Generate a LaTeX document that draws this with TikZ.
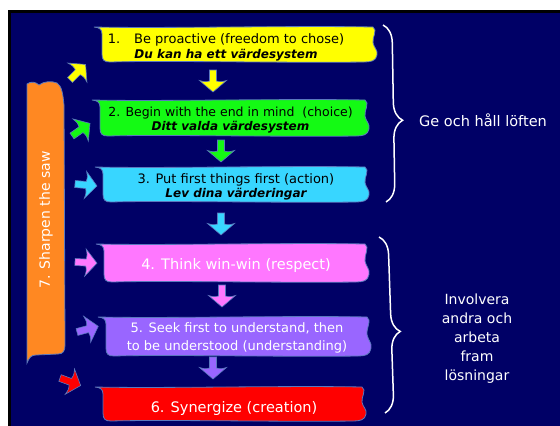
\documentclass[tikz,border=0pt]{standalone}
\usepackage{fontspec}
\setmainfont{DejaVu Sans}
\usetikzlibrary{decorations.pathreplacing}
\definecolor{navy}{RGB}{0,0,102}
\definecolor{edgec}{RGB}{90,120,190}
\definecolor{cyellow}{RGB}{255,255,0}
\definecolor{cgreen}{RGB}{20,250,20}
\definecolor{ccyan}{RGB}{56,214,255}
\definecolor{cpink}{RGB}{255,119,255}
\definecolor{cpurple}{RGB}{153,102,255}
\definecolor{cred}{RGB}{255,0,0}
\definecolor{corange}{RGB}{255,136,34}
\newcommand\scrollbox[5]{%
  \pgfmathsetmacro\sL{#2}\pgfmathsetmacro\sT{#3}%
  \pgfmathsetmacro\sR{#4}\pgfmathsetmacro\sB{#5}%
  \pgfmathsetmacro\sH{\sB-\sT}%
  \filldraw[scrollstyle, fill=#1] (\sL-8,\sT)
    .. controls (\sL+60,\sT+1.5) and (\sR-80,\sT-1.5) .. (\sR-3,\sT)
    .. controls (\sR+2,\sT+3) and (\sR-4,\sT+0.3*\sH) .. (\sR-3,\sT+0.45*\sH)
    .. controls (\sR-2,\sT+0.6*\sH) and (\sR+2,\sT+0.65*\sH) .. (\sR+1,\sT+0.8*\sH)
    .. controls (\sR,\sB-1) and (\sR-5,\sB) .. (\sR-12,\sB)
    .. controls (\sR-80,\sB+1) and (\sL+60,\sB-1.5) .. (\sL+8,\sB)
    .. controls (\sL+2,\sB) and (\sL,\sB-2) .. (\sL,\sB-8)
    -- (\sL,\sT+7)
    .. controls (\sL,\sT+2) and (\sL-3,\sT+0.5) .. (\sL-8,\sT) -- cycle;}
\tikzset{
  scrollstyle/.style={draw=edgec, line width=0.8pt},
  fatarrow/.pic={\filldraw[fill=#1, draw=edgec, line width=0.6pt]
    (0,-3.5) -- (11,-3.5) .. controls (12,-8) .. (10.5,-13.5)
    .. controls (16,-6) .. (22,0) .. controls (16,6) .. (10.5,13.5)
    .. controls (12,8) .. (11,3.5) -- (0,3.5) -- cycle;},
  txt/.style={inner sep=0pt, align=center},
  bracestyle/.style={draw=white, line width=1.5pt,
    decorate, decoration={brace, amplitude=18pt, aspect=0.54}}
}
\begin{document}
\begin{tikzpicture}[x=1pt,y=-1pt]
\useasboundingbox (0,0) rectangle (560,426);
\fill[white] (0,0) rectangle (560,426);
\fill[black] (8,10) rectangle (560,426);
\fill[navy] (11,13) rectangle (560,426);

% orange bar
\filldraw[fill=corange, draw=edgec, line width=0.8pt]
  (27,84) .. controls (31,81) and (36,82) .. (39,85)
  .. controls (44,81) and (52,81) .. (57,83)
  .. controls (62,86) and (63,95) .. (64,105) -- (65,345)
  .. controls (65,351) and (63,354) .. (58,354) -- (36,355)
  .. controls (31,355) and (29,358) .. (27,363) -- cycle;
\node[txt, rotate=90, text=white, font=\fontsize{14}{17}\selectfont] (saw) at (46,220) {7. Sharpen the saw};

% boxes
\scrollbox{cyellow}{102}{27}{376}{62}
\scrollbox{cgreen}{100}{100}{368}{136}
\scrollbox{ccyan}{103}{167}{368}{202}
\scrollbox{cpink}{104}{244}{368}{282}
\scrollbox{cpurple}{106}{317}{370}{356}
\scrollbox{cred}{103}{387}{365}{421}

\node[txt, font=\fontsize{13}{15}\selectfont] (b1) at (226,47.5)
  {1.\hspace{14pt}Be proactive (freedom to chose)\\[0pt]{\fontsize{12}{15}\selectfont\bfseries\itshape Du kan ha ett värdesystem}};
\node[txt, font=\fontsize{12.5}{14}\selectfont] (b2) at (230.5,120)
  {2. Begin with the end in mind\ \ (choice)\\{\fontsize{12}{14}\selectfont\bfseries\itshape Ditt valda värdesystem}};
\node[txt, font=\fontsize{13}{14}\selectfont] (b3) at (236,187)
  {3. Put first things first (action)\\{\fontsize{12}{14}\selectfont\bfseries\itshape Lev dina värderingar}};
\node[txt, text=white, font=\fontsize{14.5}{17}\selectfont] (b4) at (236,265) {4. Think win-win (respect)};
\node[txt, text=white, font=\fontsize{13}{18}\selectfont] (b5) at (237,338)
  {5. Seek first to understand, then\\to be understood (understanding)};
\node[txt, text=white, font=\fontsize{14.5}{17}\selectfont] (b6) at (234,408) {6. Synergize (creation)};

% down arrows between boxes
\pic[rotate=-90] at (213,70) {fatarrow=cyellow};
\pic[rotate=-90] at (221,140) {fatarrow=cgreen};
\pic[rotate=-90] at (221,213) {fatarrow=ccyan};
\pic[rotate=-90] at (222,285) {fatarrow=cpink};
\pic[rotate=-90] at (213,357) {fatarrow=cpurple};

% side arrows from the bar
\pic[rotate=45] at (70,80) {fatarrow=cyellow};
\pic[rotate=35] at (72,136) {fatarrow=cgreen};
\pic[rotate=-5] at (75,184) {fatarrow=ccyan};
\pic[rotate=-3] at (75,262) {fatarrow=cpink};
\pic[rotate=15] at (77,332) {fatarrow=cpurple};
\pic[rotate=-20] at (60,378) {fatarrow=cred};

% braces
\coordinate (br1a) at (383,25);
\coordinate (br1b) at (386,202);
\coordinate (br2a) at (379,237);
\coordinate (br2b) at (385,413);
\draw[bracestyle] (br1a) -- (br1b);
\draw[bracestyle] (br2a) -- (br2b);

\node[txt, text=white, font=\fontsize{14.5}{17}\selectfont] (g1) at (483,120) {Ge och håll löften};
\node[txt, text=white, font=\fontsize{14}{19}\selectfont] (g2) at (477,339)
  {Involvera\\andra och\\arbeta\\fram\\lösningar};
\end{tikzpicture}
\end{document}
